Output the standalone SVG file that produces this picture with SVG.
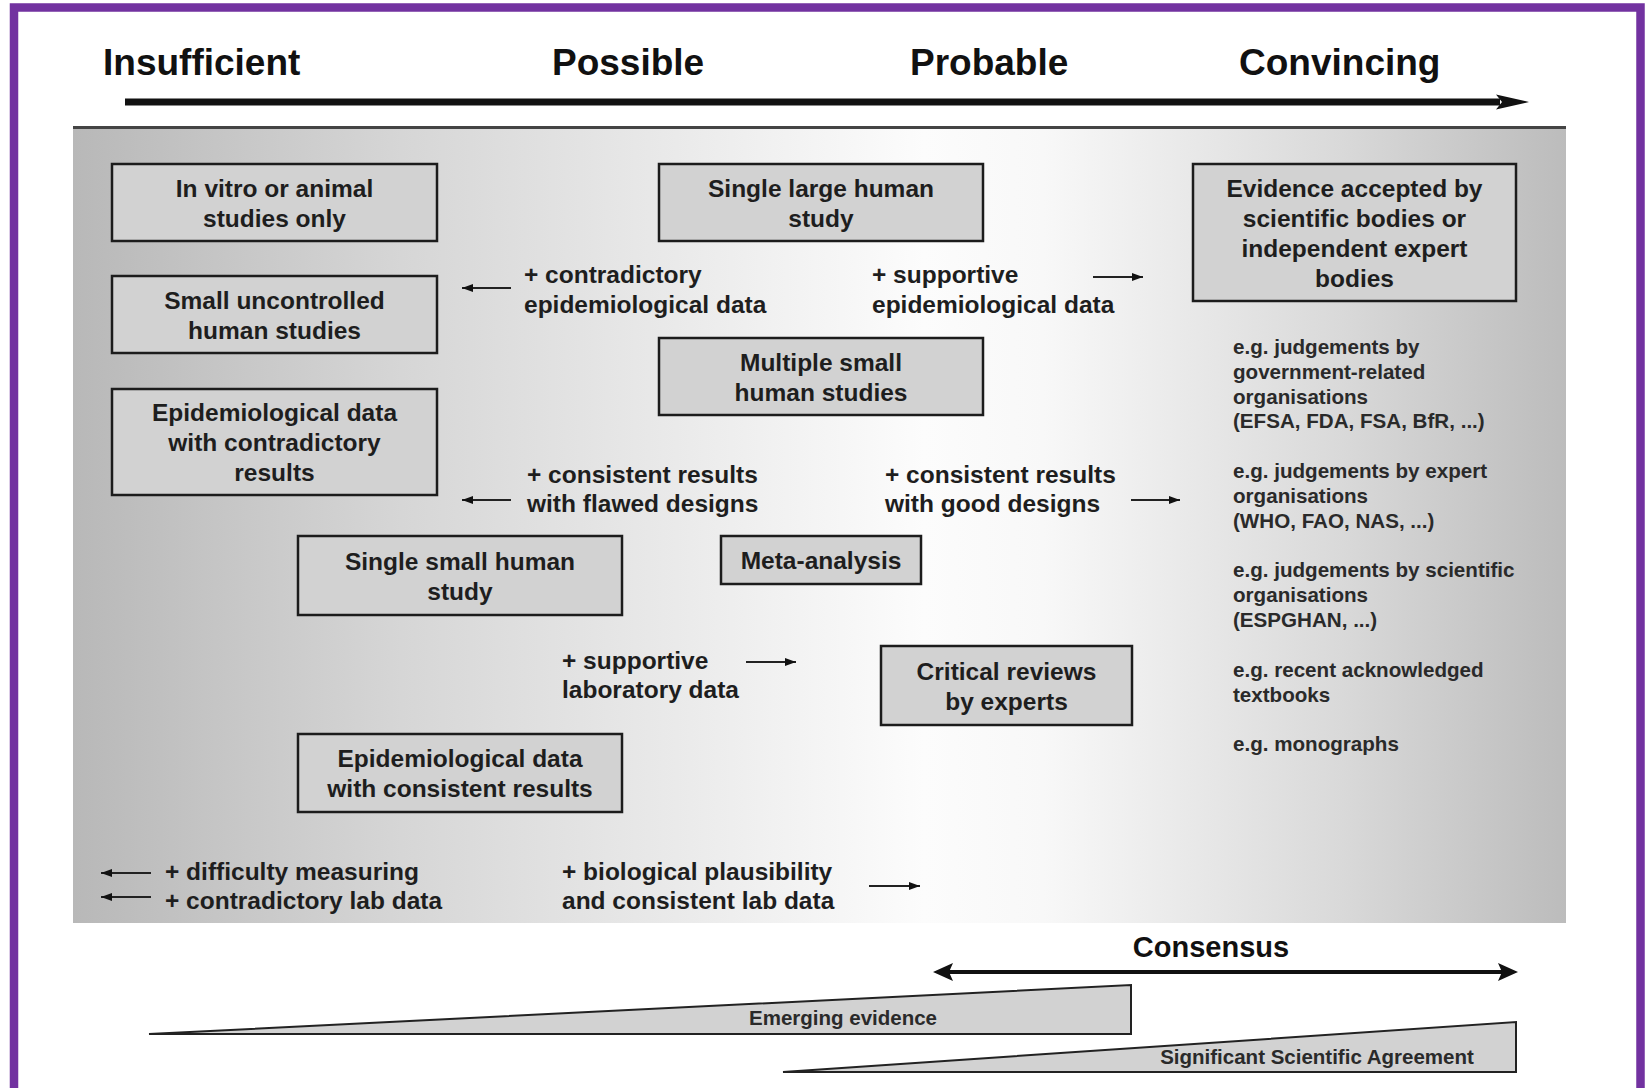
<svg xmlns="http://www.w3.org/2000/svg" width="1648" height="1088" viewBox="0 0 1648 1088">
<defs>
<linearGradient id="panelGrad" x1="0" y1="0" x2="1" y2="0">
<stop offset="0" stop-color="#b8b8b8"/>
<stop offset="0.22" stop-color="#d6d6d6"/>
<stop offset="0.57" stop-color="#fcfcfc"/>
<stop offset="0.65" stop-color="#f8f8f8"/>
<stop offset="0.85" stop-color="#d9d9d9"/>
<stop offset="1" stop-color="#bcbcbc"/>
</linearGradient>
<marker id="ah" markerUnits="userSpaceOnUse" markerWidth="12" markerHeight="10" refX="11" refY="5" orient="auto">
<path d="M0,1 L11,5 L0,9 z" fill="#111"/>
</marker>
</defs>
<style>
.bx{fill:#d2d2d2;stroke:#1c1c1c;stroke-width:2.5}
.bt{font-family:"Liberation Sans",Arial,sans-serif;font-weight:bold;font-size:24.5px;fill:#1e1e1e;text-anchor:middle}
.lb{font-family:"Liberation Sans",Arial,sans-serif;font-weight:bold;font-size:24.5px;fill:#1e1e1e}
.sm{font-family:"Liberation Sans",Arial,sans-serif;font-weight:bold;font-size:20.6px;fill:#2a2a2a}
.hd{font-family:"Liberation Sans",Arial,sans-serif;font-weight:bold;font-size:37px;fill:#111}
.ar{stroke:#222;stroke-width:2;fill:none;marker-end:url(#ah)}
.wg{fill:#d2d2d2;stroke:#222;stroke-width:2}
</style>
<rect x="0" y="0" width="1648" height="1088" fill="#ffffff"/>
<rect x="14" y="7.5" width="1626.5" height="1100" fill="none" stroke="#7232a0" stroke-width="8.5"/>

<g id="header">
<text class="hd" x="103" y="75">Insufficient</text>
<text class="hd" x="552" y="75">Possible</text>
<text class="hd" x="910" y="75">Probable</text>
<text class="hd" x="1239" y="75">Convincing</text>
</g>

<g id="panel">
<rect x="73" y="127" width="1493" height="796" fill="url(#panelGrad)"/>
<line x1="73" y1="127.5" x2="1566" y2="127.5" stroke="#444" stroke-width="3"/>
</g>

<g id="connectors">
<path d="M125,102 L1500,102" stroke="#111" stroke-width="7" fill="none"/>
<path d="M1496,94.5 L1529,102 L1496,109.5 L1502,102 z" fill="#111"/>
<path d="M945,972 L1505,972" stroke="#111" stroke-width="4" fill="none"/>
<path d="M933,972 L953,963 L949,972 L953,981 z" fill="#111"/>
<path d="M1518,972 L1498,963 L1502,972 L1498,981 z" fill="#111"/>
<line class="ar" x1="511" y1="288" x2="462" y2="288"/>
<line class="ar" x1="1093" y1="277" x2="1143" y2="277"/>
<line class="ar" x1="511" y1="500" x2="462" y2="500"/>
<line class="ar" x1="1131" y1="500" x2="1180" y2="500"/>
<line class="ar" x1="746" y1="662" x2="796" y2="662"/>
<line class="ar" x1="151" y1="873" x2="101" y2="873"/>
<line class="ar" x1="151" y1="897" x2="101" y2="897"/>
<line class="ar" x1="869" y1="886" x2="920" y2="886" stroke-width="3"/>
</g>

<g id="n-invitro">
<rect class="bx" x="112" y="164" width="325" height="77"/>
<text class="bt" x="274.5" y="196.5">In vitro or animal</text>
<text class="bt" x="274.5" y="226.5">studies only</text>
</g>
<g id="n-smalluncontrolled">
<rect class="bx" x="112" y="276" width="325" height="77"/>
<text class="bt" x="274.5" y="308.5">Small uncontrolled</text>
<text class="bt" x="274.5" y="338.5">human studies</text>
</g>
<g id="n-epicontra">
<rect class="bx" x="112" y="389" width="325" height="106"/>
<text class="bt" x="274.5" y="421">Epidemiological data</text>
<text class="bt" x="274.5" y="451">with contradictory</text>
<text class="bt" x="274.5" y="481">results</text>
</g>
<g id="n-singlelarge">
<rect class="bx" x="659" y="164" width="324" height="77"/>
<text class="bt" x="821" y="196.5">Single large human</text>
<text class="bt" x="821" y="226.5">study</text>
</g>
<g id="n-multiplesmall">
<rect class="bx" x="659" y="338" width="324" height="77"/>
<text class="bt" x="821" y="370.5">Multiple small</text>
<text class="bt" x="821" y="400.5">human studies</text>
</g>
<g id="n-evidence">
<rect class="bx" x="1193" y="164" width="323" height="137"/>
<text class="bt" x="1354.5" y="197">Evidence accepted by</text>
<text class="bt" x="1354.5" y="227">scientific bodies or</text>
<text class="bt" x="1354.5" y="257">independent expert</text>
<text class="bt" x="1354.5" y="287">bodies</text>
</g>
<g id="n-singlesmall">
<rect class="bx" x="298" y="536" width="324" height="79"/>
<text class="bt" x="460" y="569.5">Single small human</text>
<text class="bt" x="460" y="599.5">study</text>
</g>
<g id="n-meta">
<rect class="bx" x="721" y="536" width="200" height="48"/>
<text class="bt" x="821" y="569">Meta-analysis</text>
</g>
<g id="n-critical">
<rect class="bx" x="881" y="646" width="251" height="79"/>
<text class="bt" x="1006.5" y="679.5">Critical reviews</text>
<text class="bt" x="1006.5" y="709.5">by experts</text>
</g>
<g id="n-epiconsistent">
<rect class="bx" x="298" y="734" width="324" height="78"/>
<text class="bt" x="460" y="767">Epidemiological data</text>
<text class="bt" x="460" y="797">with consistent results</text>
</g>

<g id="labels">
<text class="lb" x="524" y="283">+ contradictory</text>
<text class="lb" x="524" y="313">epidemiological data</text>
<text class="lb" x="872" y="283">+ supportive</text>
<text class="lb" x="872" y="313">epidemiological data</text>
<text class="lb" x="527" y="483">+ consistent results</text>
<text class="lb" x="527" y="512">with flawed designs</text>
<text class="lb" x="885" y="483">+ consistent results</text>
<text class="lb" x="885" y="512">with good designs</text>
<text class="lb" x="562" y="669">+ supportive</text>
<text class="lb" x="562" y="698">laboratory data</text>
<text class="lb" x="165" y="880">+ difficulty measuring</text>
<text class="lb" x="165" y="909">+ contradictory lab data</text>
<text class="lb" x="562" y="880">+ biological plausibility</text>
<text class="lb" x="562" y="909">and consistent lab data</text>
</g>

<g id="examples">
<text class="sm" x="1233" y="354">e.g. judgements by</text>
<text class="sm" x="1233" y="379">government-related</text>
<text class="sm" x="1233" y="404">organisations</text>
<text class="sm" x="1233" y="428">(EFSA, FDA, FSA, BfR, ...)</text>
<text class="sm" x="1233" y="478">e.g. judgements by expert</text>
<text class="sm" x="1233" y="503">organisations</text>
<text class="sm" x="1233" y="528">(WHO, FAO, NAS, ...)</text>
<text class="sm" x="1233" y="577">e.g. judgements by scientific</text>
<text class="sm" x="1233" y="602">organisations</text>
<text class="sm" x="1233" y="627">(ESPGHAN, ...)</text>
<text class="sm" x="1233" y="677">e.g. recent acknowledged</text>
<text class="sm" x="1233" y="702">textbooks</text>
<text class="sm" x="1233" y="751">e.g. monographs</text>
</g>

<g id="consensus">
<text class="hd" x="1211" y="957" text-anchor="middle" style="font-size:29px">Consensus</text>
</g>
<g id="emerging">
<polygon class="wg" points="149,1034 1131,985 1131,1034"/>
<text class="sm" x="843" y="1025" text-anchor="middle" style="font-size:20.5px">Emerging evidence</text>
</g>
<g id="agreement">
<polygon class="wg" points="783,1072 1516,1022 1516,1072"/>
<text class="sm" x="1317" y="1064" text-anchor="middle" style="font-size:20.5px">Significant Scientific Agreement</text>
</g>
</svg>
